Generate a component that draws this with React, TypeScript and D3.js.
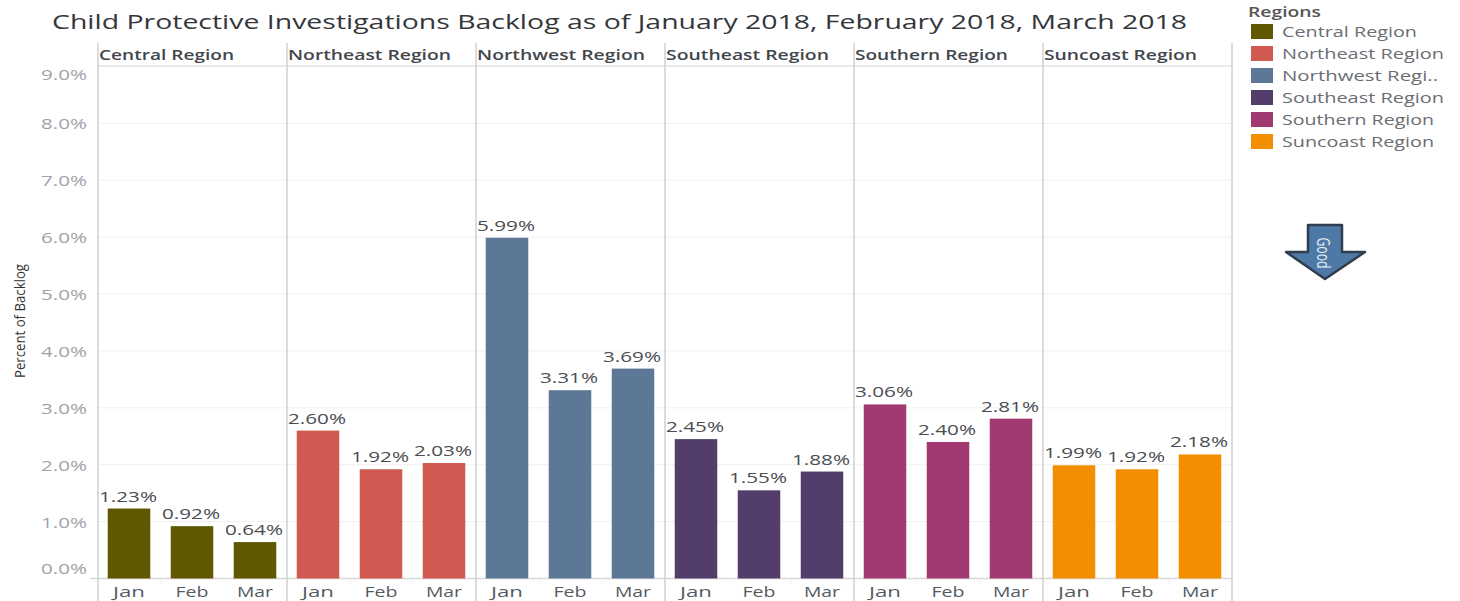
import React from "react";
import * as d3 from "d3";

const regions = ["Central Region", "Northeast Region", "Northwest Region", "Southeast Region", "Southern Region", "Suncoast Region"];
const legendLabels = ["Central Region", "Northeast Region", "Northwest Regi..", "Southeast Region", "Southern Region", "Suncoast Region"];
const months = ["Jan", "Feb", "Mar"];
const central = [1.23, 0.92, 0.64];
const northeast = [2.6, 1.92, 2.03];
const northwest = [5.99, 3.31, 3.69];
const southeast = [2.45, 1.55, 1.88];
const southern = [3.06, 2.4, 2.81];
const suncoast = [1.99, 1.92, 2.18];
const seriesValues = [central, northeast, northwest, southeast, southern, suncoast];
const colors = ["#5f5800", "#d05a52", "#5d7896", "#533e6b", "#a03a70", "#f28e00"];
const yTicks = [0, 1, 2, 3, 4, 5, 6, 7, 8, 9];
const headerWidths = [135, 163, 168, 163, 153, 153];
const legendWidths = [135, 162, 156, 162, 152, 152];
const FONT = "'Open Sans', sans-serif";

const W = 1460, H = 601;
const left = 98, right = 1232, top = 43, headerBottom = 66, base = 578.5;

const y = d3.scaleLinear().domain([0, 9]).range([base, 66.5]);
const panel = d3.scaleBand<string>().domain(regions).range([left, right]);
const band = d3.scaleBand<string>().domain(months).range([-0.5, panel.bandwidth() - 0.5]).paddingInner(0.325).paddingOuter(0.1625);

function T({ x, y: ty, s, size, fill, anchor = "start", weight = 400, len }: any) {
  return (
    <text x={x} y={ty} fontFamily={FONT} fontSize={size} fill={fill} textAnchor={anchor} fontWeight={weight}
      textLength={len} lengthAdjust="spacingAndGlyphs">{s}</text>
  );
}

export default function App() {
  return (
    <svg width={W} height={H} viewBox={`0 0 ${W} ${H}`} style={{ position: "absolute", left: 0, top: 0, display: "block", background: "#fff" }}>
      <T x={52} y={29} s="Child Protective Investigations Backlog as of January 2018, February 2018, March 2018" size={20} fill="#33373c" weight={500} len={1135} />

      {yTicks.filter((t) => t > 0 && t < 9).map((t) => (
        <line key={t} x1={left} x2={right} y1={y(t)} y2={y(t)} stroke="#f0f0f0" strokeWidth={1} />
      ))}
      <line x1={left} x2={right} y1={headerBottom} y2={headerBottom} stroke="#d4d4d4" strokeWidth={1} />
      <line x1={90} x2={right} y1={base} y2={base} stroke="#d8d8d8" strokeWidth={1.5} />
      {d3.range(regions.length + 1).map((i) => {
        const x = left + i * panel.step();
        return <line key={i} x1={x} x2={x} y1={top} y2={H} stroke="#d0d0d0" strokeWidth={1.5} />;
      })}

      {yTicks.map((t) => (
        <T key={t} x={87} y={t === 0 ? 574 : t === 9 ? 80 : y(t) + 6} s={`${t.toFixed(1)}%`} size={14} fill="#a0a3a8" anchor="end" len={46} />
      ))}
      <g transform="translate(25,321) rotate(-90)">
        <text textAnchor="middle" fontFamily={FONT} fontSize={15} fontWeight={500} fill="#333" textLength={114} lengthAdjust="spacingAndGlyphs">Percent of Backlog</text>
      </g>

      {regions.map((r, i) => (
        <g key={r} transform={`translate(${panel(r)},0)`}>
          <T x={1} y={60} s={r} size={14} fill="#42464c" weight={600} len={headerWidths[i]} />
          {months.slice(1).map((m) => {
            const tx = panel.step() * (months.indexOf(m) / months.length);
            return <line key={m} x1={tx} x2={tx} y1={base} y2={base + 5} stroke="#f0f0f0" />;
          })}
          {seriesValues[i].map((v, j) => {
            const bx = band(months[j])!;
            return (
              <g key={j}>
                <rect x={bx} y={y(v)} width={band.bandwidth()} height={base - y(v)} fill={colors[i]} />
                <T x={bx + band.bandwidth() / 2 - 1} y={y(v) - 7} s={`${v.toFixed(2)}%`} size={14} fill="#4a4d52" anchor="middle" len={58} />
                <T x={bx + band.bandwidth() / 2} y={597} s={months[j]} size={14} fill="#555a60" anchor="middle" len={j === 1 ? 33 : j === 0 ? 32 : 36} />
              </g>
            );
          })}
        </g>
      ))}

      <T x={1248} y={17} s="Regions" size={13.5} fill="#555" weight={600} len={73} />
      {legendLabels.map((l, i) => (
        <g key={l} transform={`translate(0,${24 + i * 22})`}>
          <rect x={1251} y={0} width={22} height={15} fill={colors[i]} />
          <T x={1282} y={13} s={l} size={14} fill="#6a6d73" len={legendWidths[i]} />
        </g>
      ))}

      <path d="M1308 225 H1342 V252 H1365 L1325 279 L1286 252 H1308 Z" fill="#4e79a7" stroke="#2f3d4c" strokeWidth={2.5} strokeLinejoin="round" />
      <g transform="translate(1317,253) rotate(90)">
        <text textAnchor="middle" fontFamily={FONT} fontSize={18} fill="#e6edf4" textLength={31} lengthAdjust="spacingAndGlyphs">Good</text>
      </g>
    </svg>
  );
}
